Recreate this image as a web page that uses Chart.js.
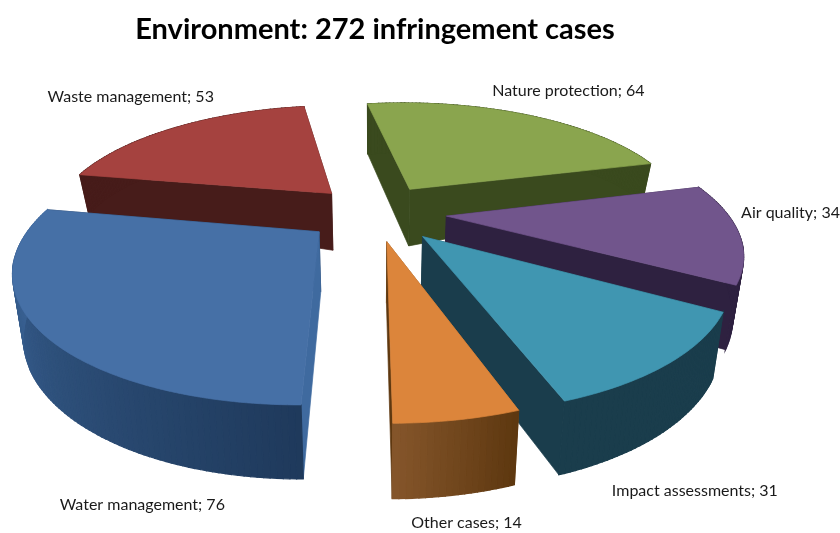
<!DOCTYPE html>
<html><head><meta charset="utf-8">
<style>html,body{margin:0;padding:0;background:#fff}canvas{display:block}</style>
<script src="https://cdn.jsdelivr.net/npm/chart.js@4"></script></head>
<body><canvas id="c" width="840" height="533"></canvas>
<script>
const chartTitle = 'Environment: 272 infringement cases';
const categories = ['Nature protection','Air quality','Impact assessments','Other cases','Water management','Waste management'];
const values = [64,34,31,14,76,53];
const topColors = ['#8aa54e','#71558c','#4096b1','#dc853b','#4670a6','#a5423f'];
const explode = [48,51,51,48,50,46];
const wallStart = ['#3a4a1e','#2e2140','#1a3d4c','#5e3810','#1f3a5c','#471c1a'];
const wallEnd = ['#3a4a1e','#2e2140','#1a3d4c','#84552a','#3f6a9f','#471c1a'];
const cutFirst = ['#3a4a1e','#2e2140','#1a3d4c','#8f5e2e','#3f6a9f','#471c1a'];
const cutLast = ['#3a4a1e','#2e2140','#1a3d4c','#5e3810','#1f3a5c','#471c1a'];
const labelNudge = [[44,-24],[52,-20],[26,127],[9,103],[103,174],[-46,-30]];

const view = {A:1.40,B:0.59,p:0.25};
function project(arc,X,Z){
  const R=arc.outerRadius, s=1/(1-view.p*Z/R);
  return {x:arc.x+X*s*view.A, y:view.cy+Z*s*view.B};
}
function depthAt(pt,cx){
  const back=Math.max(0,(250-pt.y)/145), dx=(pt.x-cx)/300;
  return 50+0.08*(pt.y-105)-33*dx*dx*back;
}
function lower(pt,cx){ return {x:pt.x+(cx-pt.x)*0.03,y:pt.y+depthAt(pt,cx)}; }
function poly(ctx,pts,col,lw){
  ctx.beginPath(); pts.forEach((p,i)=>i?ctx.lineTo(p.x,p.y):ctx.moveTo(p.x,p.y)); ctx.closePath();
  ctx.fillStyle=col; ctx.strokeStyle=col; ctx.lineWidth=lw||0.7; ctx.fill(); ctx.stroke();
}
function hex(c){return [1,3,5].map(i=>parseInt(c.substr(i,2),16));}
function mix(a,b,t){const x=hex(a),y=hex(b);return 'rgb('+x.map((v,i)=>Math.round(v+(y[i]-v)*t)).join(',')+')';}
function geom(arc){
  const mid=(arc.startAngle+arc.endAngle)/2, o=arc.options.offset, ox=Math.cos(mid)*o, oz=Math.sin(mid)*o, R=arc.outerRadius;
  const rim=[], n=Math.ceil((arc.endAngle-arc.startAngle)*180/Math.PI);
  for(let i=0;i<=n;i++){const a=arc.startAngle+(arc.endAngle-arc.startAngle)*i/n; rim.push(project(arc,ox+R*Math.cos(a),oz+R*Math.sin(a)));}
  return {apex:project(arc,ox,oz),rim,oz,mid,ox};
}
const pie3d={id:'pie3d',
  beforeDatasetDraw(chart,args){
    const ctx=chart.ctx, arcs=args.meta.data;
    view.cy=212;
    const order=arcs.map((a,i)=>({a,i,g:geom(a)})).sort((u,v)=>u.g.oz-v.g.oz);
    order.forEach(({a,i,g})=>{
      const cx=a.x, apexB=lower(g.apex,cx), r0=g.rim[0], rN=g.rim[g.rim.length-1];
      const cuts=[[r0,cutFirst[i]],[rN,cutLast[i]]].sort((u,v)=>u[0].y-v[0].y);
      cuts.forEach(([r,col])=>poly(ctx,[g.apex,r,lower(r,cx),apexB],col));
      for(let k=0;k<g.rim.length-1;k++){
        poly(ctx,[g.rim[k],g.rim[k+1],lower(g.rim[k+1],cx),lower(g.rim[k],cx)],mix(wallStart[i],wallEnd[i],k/(g.rim.length-2)),1.2);
      }
      poly(ctx,[g.apex,...g.rim],a.options.backgroundColor);
    });
    return false;
  },
  afterDatasetsDraw(chart){
    const ctx=chart.ctx, arcs=chart.getDatasetMeta(0).data;
    ctx.save(); ctx.font='16px Lato'; ctx.fillStyle='#1a1a1a'; ctx.textAlign='center'; ctx.textBaseline='middle';
    arcs.forEach((a,i)=>{
      const g=geom(a), R=a.outerRadius;
      const p=project(a,g.ox+R*Math.cos(g.mid),g.oz+R*Math.sin(g.mid));
      ctx.fillText(categories[i]+'; '+values[i],p.x+labelNudge[i][0],p.y+labelNudge[i][1]);
    });
    ctx.restore();
  }
};
new Chart(document.getElementById('c'),{
  type:'pie',
  data:{labels:categories,datasets:[{data:values,backgroundColor:topColors,offset:explode,borderWidth:0}]},
  options:{
    responsive:false,animation:false,rotation:-9.5,radius:200,
    layout:{padding:{right:90,top:12}},
    plugins:{
      legend:{display:false},tooltip:{enabled:false},
      title:{display:true,text:chartTitle,color:'#000',font:{family:'Lato',size:29,weight:'bold'},padding:{top:0,bottom:10}}
    }
  },
  plugins:[pie3d]
});
</script></body></html>
